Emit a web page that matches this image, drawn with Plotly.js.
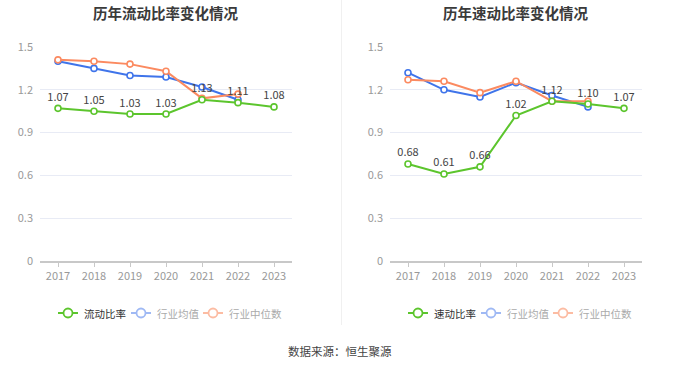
<!DOCTYPE html>
<html>
<head>
<meta charset="utf-8">
<script src="https://cdn.plot.ly/plotly-3.0.1.min.js"></script>
<style>html,body{margin:0;padding:0;background:#fff;}#chart{width:680px;height:367px;}</style>
</head>
<body>
<div id="chart"></div>
<script>
const years = ['2017','2018','2019','2020','2021','2022','2023'];
const currentRatio = [1.07, 1.05, 1.03, 1.03, 1.13, 1.11, 1.08];
const currentIndustryMean = [1.40, 1.35, 1.30, 1.29, 1.22, 1.13, null];
const currentIndustryMedian = [1.41, 1.40, 1.38, 1.33, 1.14, 1.17, null];
const quickRatio = [0.68, 0.61, 0.66, 1.02, 1.12, 1.10, 1.07];
const quickIndustryMean = [1.32, 1.20, 1.15, 1.25, 1.16, 1.08, null];
const quickIndustryMedian = [1.27, 1.26, 1.18, 1.26, 1.12, 1.12, null];
const yTicks = [0, 0.3, 0.6, 0.9, 1.2, 1.5];
const titles = ['历年流动比率变化情况', '历年速动比率变化情况'];
const names = [['流动比率','行业均值','行业中位数'], ['速动比率','行业均值','行业中位数']];
const sourceText = '数据来源：恒生聚源';

const W = 680, H = 367;
const GREEN = '#5cc52d', BLUE = '#3f74ea', ORANGE = '#fb8a60';
const FONT = '"Noto Sans CJK SC", "Noto Sans", sans-serif';

function series(x, y, color, name, xa, ya, withText) {
  const t = {
    x: x, y: y, name: name, xaxis: xa, yaxis: ya, showlegend: false,
    type: 'scatter', mode: withText ? 'lines+markers+text' : 'lines+markers',
    line: {color: color, width: 2},
    marker: {symbol: 'circle', size: 6, color: '#fff', line: {color: color, width: 1.6}},
    cliponaxis: false, hoverinfo: 'skip'
  };
  if (withText) {
    t.text = y.map(v => v == null ? '' : v.toFixed(2));
    t.textposition = 'top center';
    t.textfont = {family: FONT, size: 11, color: '#444'};
  }
  return t;
}

const data = [
  series(years, currentIndustryMean, BLUE, names[0][1], 'x', 'y', false),
  series(years, currentIndustryMedian, ORANGE, names[0][2], 'x', 'y', false),
  series(years, currentRatio, GREEN, names[0][0], 'x', 'y', true),
  series(years, quickIndustryMean, BLUE, names[1][1], 'x2', 'y2', false),
  series(years, quickIndustryMedian, ORANGE, names[1][2], 'x2', 'y2', false),
  series(years, quickRatio, GREEN, names[1][0], 'x2', 'y2', true)
];

function xaxis(domain, anchor) {
  return {
    domain: domain, anchor: anchor, type: 'category', range: [-0.5, 6.5],
    showgrid: false, zeroline: false, showline: true, linecolor: '#c8c8c8', linewidth: 1.5,
    ticks: 'outside', ticklen: 4, tickcolor: '#c8c8c8', tickwidth: 1,
    tickfont: {family: FONT, size: 11, color: '#999'}, fixedrange: true
  };
}
function yaxis(anchor) {
  return {
    domain: [1 - 261/H, 1 - 47/H], anchor: anchor, range: [0, 1.5],
    tickvals: yTicks, ticktext: yTicks.map(v => String(v)),
    showgrid: true, gridcolor: '#e8ebf5', gridwidth: 1, zeroline: false, showline: false,
    ticks: '', ticklabelstandoff: 6,
    tickfont: {family: FONT, size: 11, color: '#999'}, fixedrange: true
  };
}

const annotations = [
  {text: '<b>' + titles[0] + '</b>', x: 165/W, y: 1 - 12/H, xref: 'paper', yref: 'paper',
   xanchor: 'center', yanchor: 'middle', showarrow: false, font: {family: FONT, size: 14.5, color: '#3a3a3a'}},
  {text: '<b>' + titles[1] + '</b>', x: 515/W, y: 1 - 12/H, xref: 'paper', yref: 'paper',
   xanchor: 'center', yanchor: 'middle', showarrow: false, font: {family: FONT, size: 14.5, color: '#3a3a3a'}},
  {text: sourceText, x: 0.5, y: 1 - 351/H, xref: 'paper', yref: 'paper',
   xanchor: 'center', yanchor: 'middle', showarrow: false, font: {family: FONT, size: 11.5, color: '#444'}}
];
const shapes = [
  {type: 'line', xref: 'paper', yref: 'paper', x0: 341.5/W, x1: 341.5/W, y0: 1 - 325/H, y1: 1,
   line: {color: '#f0f0f0', width: 1}}
];

// hand-built legends (icon: short line with open circle, then label)
const legendY = 313;
const legendStarts = [[58, 131, 203], [408, 481, 553]];
const legendIconColors = [GREEN, '#9fb9f4', '#fcbca3'];
const legendTextColors = ['#333', '#aaa', '#aaa'];
legendStarts.forEach((row, i) => {
  row.forEach((x0, j) => {
    const c = legendIconColors[j];
    shapes.push({type: 'line', xref: 'paper', yref: 'paper',
      x0: x0/W, x1: (x0 + 20)/W, y0: 1 - legendY/H, y1: 1 - legendY/H, line: {color: c, width: 2}});
    shapes.push({type: 'circle', xref: 'paper', yref: 'paper',
      x0: (x0 + 5.5)/W, x1: (x0 + 14.5)/W, y0: 1 - (legendY + 4.5)/H, y1: 1 - (legendY - 4.5)/H,
      fillcolor: '#fff', line: {color: c, width: 1.8}});
    annotations.push({text: names[i][j], x: (x0 + 24)/W, y: 1 - legendY/H, xref: 'paper', yref: 'paper',
      xanchor: 'left', yanchor: 'middle', showarrow: false,
      font: {family: FONT, size: 10.5, color: legendTextColors[j]}});
  });
});

const layout = {
  width: W, height: H,
  margin: {l: 0, r: 0, t: 0, b: 0},
  paper_bgcolor: '#fff', plot_bgcolor: '#fff',
  xaxis: xaxis([40/W, 292/W], 'y'),
  yaxis: yaxis('x'),
  xaxis2: xaxis([390/W, 642/W], 'y2'),
  yaxis2: yaxis('x2'),
  showlegend: false,
  annotations: annotations,
  shapes: shapes
};

Plotly.newPlot('chart', data, layout, {displayModeBar: false, staticPlot: true});
</script>
</body>
</html>
